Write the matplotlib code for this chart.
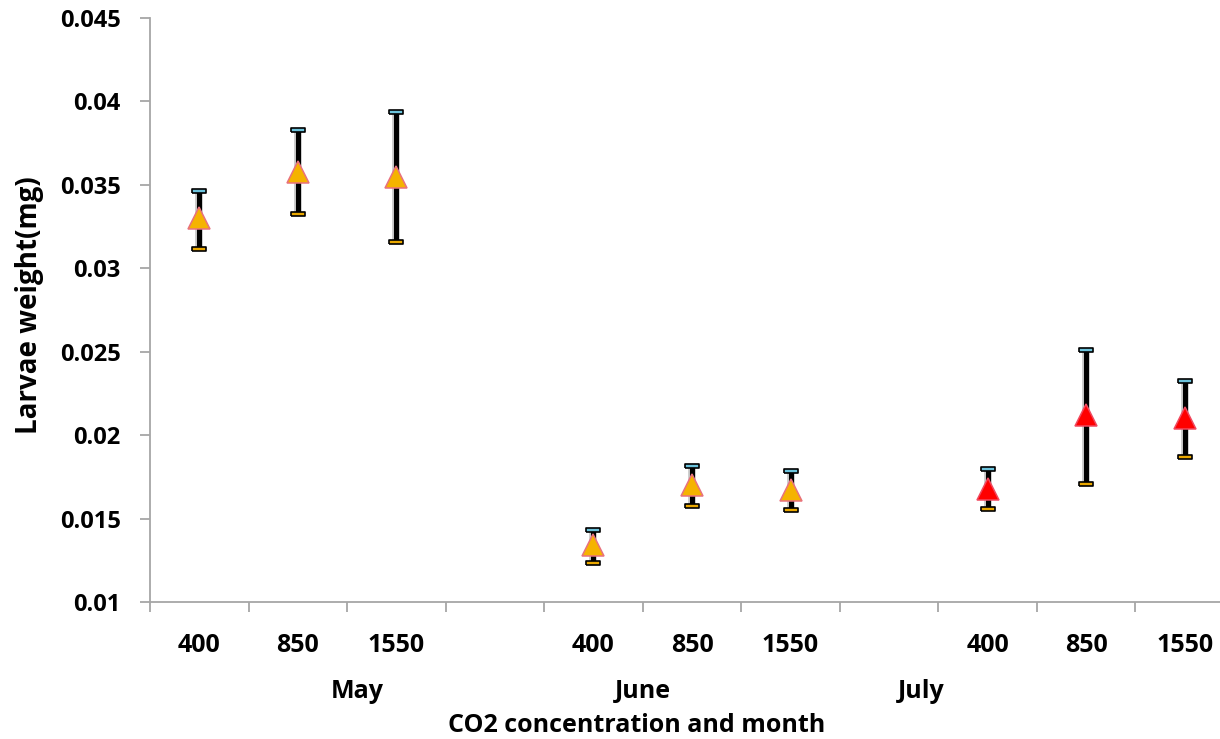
import numpy as np
import matplotlib
matplotlib.use("Agg")
import matplotlib.pyplot as plt
import matplotlib.patheffects as pe
from matplotlib.transforms import blended_transform_factory

plt.rcParams['font.family'] = ['Open Sans', 'Noto Sans', 'DejaVu Sans']

# --- data ---
months = ['May', 'June', 'July']
co2_labels = ['400', '850', '1550', '', '400', '850', '1550', '', '400', '850', '1550']
# one slot per category; empty slots separate the months
means = [0.0330, 0.0358, 0.0355, np.nan, 0.0134, 0.0170, 0.0167, np.nan, 0.0168, 0.0212, 0.0210]
err_up = [0.00165, 0.00250, 0.00385, np.nan, 0.00090, 0.00115, 0.00115, np.nan, 0.00115, 0.00390, 0.00225]
err_down = [0.00185, 0.00255, 0.00390, np.nan, 0.00105, 0.00125, 0.00120, np.nan, 0.00125, 0.00415, 0.00230]
month_pos = [1.6, 4.5, 7.33]   # where the month names sit on the category axis
july_start = 8

means = np.array(means)
err_up = np.array(err_up)
err_down = np.array(err_down)
x = np.arange(len(means))
ok = ~np.isnan(means)

fig = plt.figure(figsize=(12.2, 7.39), dpi=100)
ax = fig.add_axes([150 / 1220, 137 / 739, 1084 / 1220, 584 / 739])

# error bars (thick black with a soft grey outline)
lo = means - err_down
hi = means + err_up
ax.vlines(x[ok], lo[ok], hi[ok], color='black', linewidth=3.6, zorder=2,
          path_effects=[pe.Stroke(linewidth=5.5, foreground='#c4c4c4'), pe.Normal()])

cap = [(-1, -0.33), (1, -0.33), (1, 0.33), (-1, 0.33), (-1, -0.33)]
ax.plot(x[ok], hi[ok], linestyle='none', marker=cap, markersize=10,
        markerfacecolor='#6cc3dc', markeredgecolor='black', markeredgewidth=1.2, zorder=3)
ax.plot(x[ok], lo[ok], linestyle='none', marker=cap, markersize=10,
        markerfacecolor='#eaa800', markeredgecolor='black', markeredgewidth=1.2, zorder=3)

# triangles: May/June orange, July red
early = ok & (x < july_start)
late = ok & (x >= july_start)
ax.plot(x[early], means[early], linestyle='none', marker='^', markersize=16,
        markerfacecolor='#f5b300', markeredgecolor='#e8717e', markeredgewidth=1.1, zorder=4)
ax.plot(x[late], means[late], linestyle='none', marker='^', markersize=16,
        markerfacecolor='#ff0000', markeredgecolor='#f04a60', markeredgewidth=1.1, zorder=4)

# axes
ax.set_xlim(-0.5, len(means) - 0.5)
ax.set_ylim(0.01, 0.045)
ax.set_yticks([0.01, 0.015, 0.02, 0.025, 0.03, 0.035, 0.04, 0.045])
ax.set_yticklabels(['0.01', '0.015', '0.02', '0.025', '0.03', '0.035', '0.04', '0.045'])
ax.set_xticks(np.arange(len(means) + 1) - 0.5)
ax.set_xticklabels([])

for s in ['top', 'right']:
    ax.spines[s].set_visible(False)
for s in ['left', 'bottom']:
    ax.spines[s].set_color('#a6a6a6')
    ax.spines[s].set_linewidth(1.3)

ax.tick_params(axis='both', which='major', direction='out', length=7, width=1.3, color='#a6a6a6')
ax.tick_params(axis='y', pad=14, labelsize=17)
for t in ax.get_yticklabels():
    t.set_fontweight('bold')

tr = blended_transform_factory(ax.transData, ax.transAxes)
for i, lab in enumerate(co2_labels):
    ax.text(i, -0.074, lab, transform=tr, ha='center', va='center',
            fontsize=18, fontweight='bold', clip_on=False)
for m, p in zip(months, month_pos):
    ax.text(p, -0.154, m, transform=tr, ha='center', va='center',
            fontsize=18, fontweight='bold', clip_on=False)

fig.text(637 / 1220, 1 - 725 / 739, 'CO2 concentration and month', ha='center', va='center',
         fontsize=18, fontweight='bold')
fig.text(30 / 1220, 1 - 305 / 739, 'Larvae weight(mg)', ha='center', va='center',
         rotation=90, fontsize=20, fontweight='bold')

fig.savefig('out.png', dpi=100)
